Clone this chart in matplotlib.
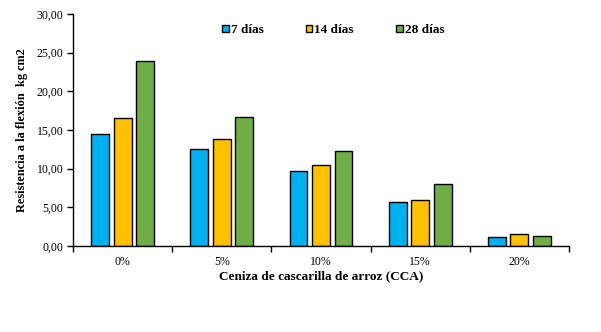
import numpy as np
import matplotlib
matplotlib.use("Agg")
import matplotlib.pyplot as plt
from matplotlib.ticker import FuncFormatter, MultipleLocator

categories = ["0%", "5%", "10%", "15%", "20%"]
series_names = ["7 días", "14 días", "28 días"]
dias_7 = [14.45, 12.50, 9.66, 5.65, 1.12]
dias_14 = [16.50, 13.90, 10.44, 5.90, 1.50]
dias_28 = [23.90, 16.65, 12.25, 7.98, 1.25]
colors = ["#00B0F0", "#FFC000", "#70AD47"]

plt.rcParams["font.family"] = ["Liberation Serif", "DejaVu Serif"]

fig = plt.figure(figsize=(6.01, 3.32), dpi=100)
ax = fig.add_axes([73 / 601, 1 - 246 / 332, (569 - 73) / 601, (246 - 14) / 332])

x = np.arange(len(categories))
width = 0.18
offset = 0.227
for i, (vals, name, c) in enumerate(zip([dias_7, dias_14, dias_28], series_names, colors)):
    ax.bar(x + (i - 1) * offset, vals, width, color=c, edgecolor="black",
           linewidth=1.0, label=name, zorder=2)

ax.set_xlim(-0.5, len(categories) - 0.5)
ax.set_ylim(0, 30)
ax.yaxis.set_major_locator(MultipleLocator(5))
ax.yaxis.set_major_formatter(FuncFormatter(lambda v, p: f"{v:.2f}".replace(".", ",")))

ax.set_xticks(x)
ax.set_xticklabels(categories)
ax.set_xticks(np.arange(-0.5, len(categories)), minor=True)
ax.tick_params(axis="x", which="major", length=0, pad=7, labelsize=8.5)
ax.tick_params(axis="x", which="minor", length=4, width=1.0, direction="out")
ax.tick_params(axis="y", length=4, width=1.0, direction="out", labelsize=8.5, pad=3)

for s in ["top", "right"]:
    ax.spines[s].set_visible(False)
for s in ["left", "bottom"]:
    ax.spines[s].set_linewidth(1.0)

ax.set_xlabel("Ceniza de cascarilla de arroz (CCA)", fontsize=9.5, fontweight="bold", labelpad=2)
ax.set_ylabel("Resistencia a la flexión  kg cm2", fontsize=8.8, fontweight="bold", labelpad=6)

leg = fig.legend(*ax.get_legend_handles_labels(), loc="center left",
                 bbox_to_anchor=(222 / 601, 1 - 30 / 332), ncol=3, frameon=False,
                 borderpad=0, borderaxespad=0,
                 handlelength=0.5, handleheight=0.5, handletextpad=0.15, columnspacing=3.2,
                 prop={"weight": "bold", "size": 9.5})

fig.savefig("out.png", dpi=100)
